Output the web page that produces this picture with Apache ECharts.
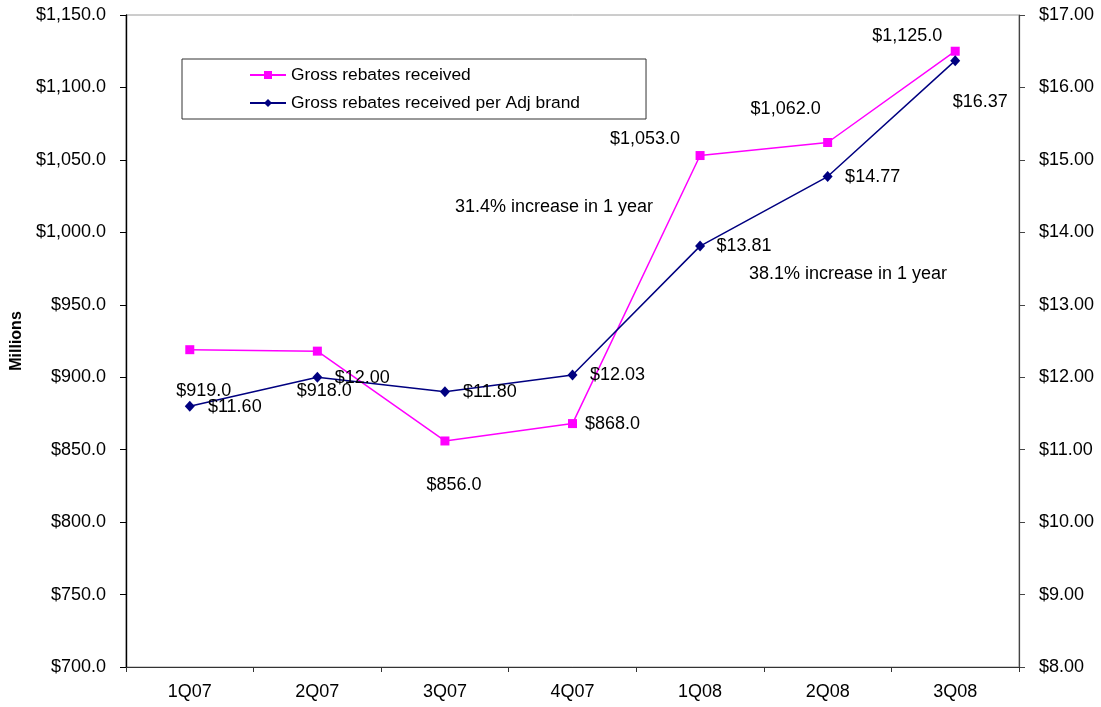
<!DOCTYPE html>
<html>
<head>
<meta charset="utf-8">
<style>
  html, body { margin: 0; padding: 0; background: #fff; }
  #chart { width: 1101px; height: 707px; }
</style>
<script src="https://cdn.jsdelivr.net/npm/echarts@6/dist/echarts.min.js"></script>
</head>
<body>
<div id="chart"></div>
<script>
// Quarterly rebate figures
const quarters = ['1Q07', '2Q07', '3Q07', '4Q07', '1Q08', '2Q08', '3Q08'];
const grossRebates = [919.0, 918.0, 856.0, 868.0, 1053.0, 1062.0, 1125.0];      // $ millions
const rebatesPerBrand = [11.60, 12.00, 11.80, 12.03, 13.81, 14.77, 16.37];      // $ per adjusted brand
const seriesNames = ['Gross rebates received', 'Gross rebates received per Adj brand'];
const notes = ['31.4% increase in 1 year', '38.1% increase in 1 year'];

// Label placement (pixel offsets from each marker's centre)
const grossLabelOffsets = [[14, 41], [7, 40], [9, 44], [40, 0], [-55, -17], [-42, -33], [-48, -15]];
const perBrandLabelOffsets = [[45, 1], [45, 1], [45, 0], [45, 0], [44, 0], [45, 0], [25, 41]];

const FONT = '"Liberation Sans", Arial, sans-serif';
const PINK = '#FF00FF';
const NAVY = '#000080';

const money1 = v => '$' + v.toLocaleString('en-US', { minimumFractionDigits: 1, maximumFractionDigits: 1 });
const money2 = v => '$' + v.toFixed(2);

const chart = echarts.init(document.getElementById('chart'));

chart.setOption({
  animation: false,
  backgroundColor: '#fff',
  textStyle: { fontFamily: FONT },
  grid: {
    left: 126, right: 82, top: 15, bottom: 40,
    show: true, borderColor: '#9a9a9a', borderWidth: 1
  },
  legend: {
    left: 182, top: 59,
    orient: 'vertical',
    itemWidth: 36, itemHeight: 10, itemGap: 10,
    padding: [7, 66, 7, 67],
    borderColor: '#333', borderWidth: 1, backgroundColor: '#fff',
    textStyle: { fontSize: 17.4, color: '#000', fontFamily: FONT, lineHeight: 18 },
    data: seriesNames
  },
  xAxis: {
    type: 'category',
    data: quarters,
    boundaryGap: true,
    axisLine: { lineStyle: { color: '#333', width: 1.2 } },
    axisTick: { show: true, length: 5, lineStyle: { color: '#333' } },
    axisLabel: { color: '#000', fontSize: 18, margin: 16, fontFamily: FONT }
  },
  yAxis: [
    {
      type: 'value',
      min: 700, max: 1150, interval: 50,
      name: 'Millions',
      nameLocation: 'middle',
      nameGap: 99,
      nameTextStyle: { fontSize: 16, fontWeight: 'bold', color: '#000', fontFamily: FONT },
      axisLine: { show: true, lineStyle: { color: '#000', width: 1.4 } },
      axisTick: { show: true, length: 6, lineStyle: { color: '#000' } },
      axisLabel: { color: '#000', fontSize: 18, margin: 20, formatter: money1, fontFamily: FONT },
      splitLine: { show: false }
    },
    {
      type: 'value',
      min: 8, max: 17, interval: 1,
      position: 'right',
      axisLine: { show: true, lineStyle: { color: '#444', width: 1.2 } },
      axisTick: { show: true, length: 6, lineStyle: { color: '#444' } },
      axisLabel: { color: '#000', fontSize: 18, margin: 20, formatter: money2, fontFamily: FONT },
      splitLine: { show: false }
    }
  ],
  series: [
    {
      name: seriesNames[0],
      type: 'line',
      yAxisIndex: 0,
      color: PINK,
      symbol: 'rect',
      symbolSize: 9,
      lineStyle: { color: PINK, width: 1.5 },
      itemStyle: { color: PINK },
      data: grossRebates.map((v, i) => ({
        value: v,
        label: { offset: grossLabelOffsets[i] }
      })),
      label: {
        show: true, position: 'inside', color: '#000', fontSize: 18,
        fontFamily: FONT, formatter: p => money1(p.value)
      },
      z: 3
    },
    {
      name: seriesNames[1],
      type: 'line',
      yAxisIndex: 1,
      color: NAVY,
      symbol: 'diamond',
      symbolSize: [10, 11],
      lineStyle: { color: NAVY, width: 1.5 },
      itemStyle: { color: NAVY },
      data: rebatesPerBrand.map((v, i) => ({
        value: v,
        label: { offset: perBrandLabelOffsets[i] }
      })),
      label: {
        show: true, position: 'inside', color: '#000', fontSize: 18,
        fontFamily: FONT, formatter: p => money2(p.value)
      },
      z: 4
    }
  ],
  graphic: [
    {
      type: 'text', x: 455, y: 207, z: 10,
      style: { text: notes[0], fill: '#000', font: '18px ' + FONT, verticalAlign: 'middle', textVerticalAlign: 'middle' }
    },
    {
      type: 'text', x: 749, y: 274, z: 10,
      style: { text: notes[1], fill: '#000', font: '18px ' + FONT, verticalAlign: 'middle', textVerticalAlign: 'middle' }
    }
  ]
});
</script>
</body>
</html>
